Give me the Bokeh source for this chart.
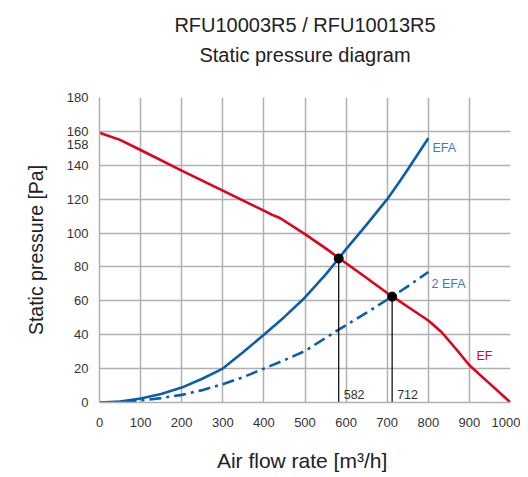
from bokeh.plotting import figure
from bokeh.models import FixedTicker, Label, Range1d, Title
from bokeh.embed import file_html
from bokeh.resources import INLINE

# ---- data ----
ef_x = [0, 50, 100, 200, 300, 366, 400, 419, 439, 500, 553, 584, 650, 700, 712, 750, 800, 832, 866, 900, 950, 1000]
ef_y = [159.2, 155.0, 149.0, 136.8, 125.0, 117.2, 113.2, 110.9, 108.9, 99.4, 90.5, 85.0, 73.5, 64.6, 62.8, 56.5, 48.4, 41.6, 32.0, 22.0, 11.0, 0.0]

efa_x = [0, 50, 100, 150, 200, 250, 300, 350, 400, 450, 500, 550, 582, 600, 650, 700, 732, 750, 800]
efa_y = [0, 0.5, 2.4, 5.0, 8.8, 14.0, 20.0, 29.8, 40.0, 50.5, 62.0, 75.5, 85.0, 90.5, 105.0, 120.0, 131.0, 137.5, 156.0]

efa2_x = [0, 50, 100, 150, 200, 250, 300, 350, 400, 450, 500, 582, 650, 712, 750, 800]
efa2_y = [0, 0.3, 1.2, 2.6, 4.5, 7.3, 10.8, 15.0, 20.0, 25.0, 30.4, 43.0, 53.0, 62.5, 68.5, 77.0]

op_x = [582, 712]
op_y = [85.0, 62.5]
op_labels = ["582", "712"]

x_ticks = [0, 100, 200, 300, 400, 500, 600, 700, 800, 900, 1000]
y_ticks = [0, 20, 40, 60, 80, 100, 120, 140, 160, 180]
extra_y_label = "158"
extra_y_label_pos = 152.5  # where the "158" label is printed (just below 160)

curve_names = ["EFA", "2 EFA", "EF"]
title_lines = ["RFU10003R5 / RFU10013R5", "Static pressure diagram"]

RED = "#e2001a"
BLUE = "#0a5fa8"
LBLUE = "#3b7cc0"
FONT = "Liberation Sans"

p = figure(width=520, height=477, output_backend="svg", toolbar_location=None,
           x_range=Range1d(0, 1000), y_range=Range1d(0, 180),
           min_border_left=99, min_border_right=10, min_border_top=97, min_border_bottom=75)
p.title = None
p.outline_line_color = None
p.background_fill_color = "white"

for ax in (p.xaxis[0], p.yaxis[0]):
    ax.major_tick_line_color = None
    ax.minor_tick_line_color = None
    ax.major_tick_out = 0
    ax.major_tick_in = 0
    ax.minor_tick_out = 0
    ax.axis_line_color = "#b0b0b0"
    ax.axis_line_width = 1.5
    ax.major_label_text_font = FONT
    ax.major_label_text_font_size = "13px"
    ax.major_label_text_color = "#333333"
    ax.axis_label_text_font = FONT
    ax.axis_label_text_font_style = "normal"
    ax.axis_label_text_color = "#222222"

p.xaxis.ticker = FixedTicker(ticks=x_ticks)
p.yaxis.ticker = FixedTicker(ticks=y_ticks + [extra_y_label_pos])
p.yaxis.major_label_overrides = {extra_y_label_pos: extra_y_label}
p.xaxis.major_label_standoff = 15
p.yaxis.major_label_standoff = 11
p.xaxis.axis_label = "Air flow rate  [m³/h]"
p.xaxis.axis_label_text_font_size = "21px"
p.xaxis.axis_label_standoff = 19
p.yaxis.axis_label = "Static pressure [Pa]"
p.yaxis.axis_label_text_font_size = "19.5px"
p.yaxis.axis_label_standoff = 17

p.xgrid.ticker = FixedTicker(ticks=x_ticks)
p.ygrid.ticker = FixedTicker(ticks=y_ticks)
for g in (p.xgrid[0], p.ygrid[0]):
    g.grid_line_color = "#b0b0b0"
    g.grid_line_width = 1.5

# curves
p.line(ef_x, ef_y, line_color=RED, line_width=2.6)
p.line(efa_x, efa_y, line_color=BLUE, line_width=2.6)
p.line(efa2_x, efa2_y, line_color=BLUE, line_width=2.6, line_dash="12 5 3 5")

# operating points
p.segment(x0=op_x, y0=op_y, x1=op_x, y1=[0] * len(op_x), line_color="black", line_width=1.2)
p.scatter(op_x, op_y, size=9, color="black")
for xv, t in zip(op_x, op_labels):
    p.add_layout(Label(x=xv, y=4.8, text=t, x_offset=5, text_font=FONT, text_font_size="12.5px",
                       text_color="#333333", text_baseline="middle", text_align="left"))

# curve names
p.add_layout(Label(x=810, y=150.3, text=curve_names[0], text_font=FONT, text_font_size="12.5px",
                   text_color=LBLUE, text_baseline="middle"))
p.add_layout(Label(x=808, y=70, text=curve_names[1], text_font=FONT, text_font_size="12.5px",
                   text_color=LBLUE, text_baseline="middle"))
p.add_layout(Label(x=917, y=27.3, text=curve_names[2], text_font=FONT, text_font_size="12.5px",
                   text_color=RED, text_baseline="middle"))

# title (two lines; first added is closest to the frame)
p.add_layout(Title(text=title_lines[1], align="center", text_font=FONT, text_font_size="20px",
                   text_font_style="normal", text_color="#222222", standoff=63), "above")
p.add_layout(Title(text=title_lines[0], align="center", text_font=FONT, text_font_size="20px",
                   text_font_style="normal", text_color="#222222", standoff=-50), "above")

open("out.html", "w").write(file_html(p, INLINE))
